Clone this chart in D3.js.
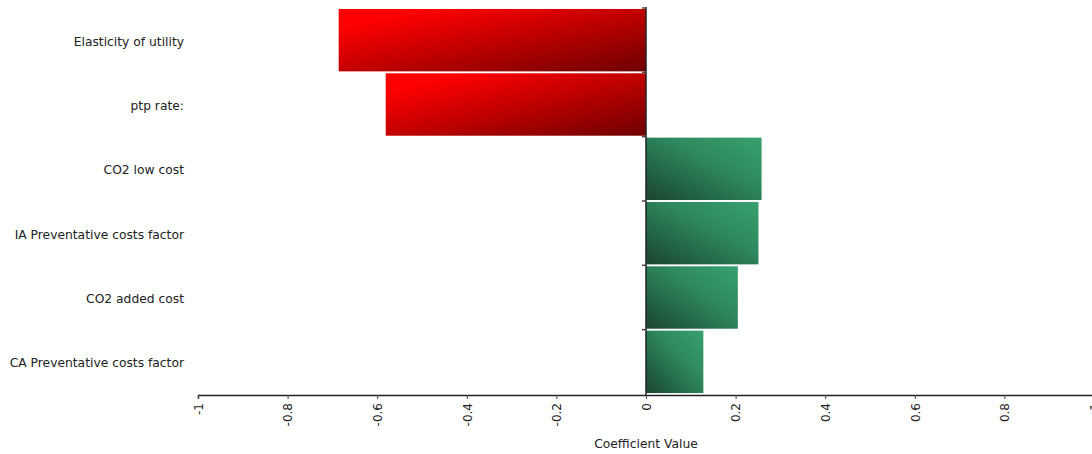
<!DOCTYPE html>
<html><head><meta charset="utf-8">
<script src="https://cdn.jsdelivr.net/npm/d3@7"></script>
<style>
body{margin:0;background:#fff;}
svg text{font-family:"DejaVu Sans",Verdana,sans-serif;}
</style></head>
<body><svg id="c" width="1092" height="454"></svg>
<script>
const categories = ["Elasticity of utility","ptp rate:","CO2 low cost","IA Preventative costs factor","CO2 added cost","CA Preventative costs factor"];
const values = [-0.686, -0.581, 0.258, 0.251, 0.205, 0.128];
const xTicks = [-1,-0.8,-0.6,-0.4,-0.2,0,0.2,0.4,0.6,0.8,1];
const xTitle = "Coefficient Value";

const svg = d3.select("#c");
const x = d3.scaleLinear().domain([-1,1]).range([198,1094]);
const y = d3.scaleBand().domain(categories).range([8,394]).paddingInner(0.03).paddingOuter(0.015);

const defs = svg.append("defs");
const rg = defs.append("linearGradient").attr("id","gRed").attr("x1","0").attr("y1","0").attr("x2","1").attr("y2","1");
rg.append("stop").attr("offset","0").attr("stop-color","#ff0000");
rg.append("stop").attr("offset","0.15").attr("stop-color","#ff0000");
rg.append("stop").attr("offset","1").attr("stop-color","#6e0000");
const gg = defs.append("linearGradient").attr("id","gGreen").attr("x1","0").attr("y1","1").attr("x2","1").attr("y2","0");
gg.append("stop").attr("offset","0").attr("stop-color","#1a4530");
gg.append("stop").attr("offset","0.6").attr("stop-color","#2e8a5e");
gg.append("stop").attr("offset","1").attr("stop-color","#38a06e");

svg.append("g").selectAll("rect").data(values).join("rect")
  .attr("x",(d)=>x(Math.min(0,d)))
  .attr("y",(d,i)=>y(categories[i]))
  .attr("width",d=>Math.abs(x(d)-x(0)))
  .attr("height",y.bandwidth())
  .attr("fill",d=>d<0?"url(#gRed)":"url(#gGreen)");

// y axis at zero
const yAxisG = svg.append("g").attr("transform",`translate(${x(0)},0)`);
yAxisG.append("line").attr("y1",7).attr("y2",395).attr("stroke","#222").attr("stroke-width",1.5);
yAxisG.selectAll("line.t").data(categories).join("line").attr("class","t")
  .attr("x1",-4).attr("x2",0)
  .attr("y1",d=>y(d)-1).attr("y2",d=>y(d)-1)
  .attr("stroke","#444").attr("stroke-width",1.5);

// category labels
svg.append("g").selectAll("text").data(categories).join("text")
  .attr("x",184).attr("y",d=>y(d)+y.bandwidth()/2+2)
  .attr("text-anchor","end").attr("dominant-baseline","middle")
  .attr("font-size",12.3).attr("fill","#222").text(d=>d);

// x axis
const xAxis = d3.axisBottom(x).tickValues(xTicks).tickSize(4).tickFormat(d=>String(d));
const xg = svg.append("g").attr("transform","translate(0,395)").call(xAxis);
xg.select(".domain").attr("stroke","#222").attr("stroke-width",1.5);
xg.selectAll(".tick line").attr("stroke","#444");
xg.selectAll(".tick text")
  .attr("font-size",12).attr("fill","#222")
  .attr("font-family","DejaVu Sans, sans-serif")
  .attr("transform","rotate(-90)")
  .attr("text-anchor","end")
  .attr("x",-8).attr("y",0).attr("dy","0.35em");

svg.append("text").attr("x",x(0)).attr("y",448).attr("text-anchor","middle")
  .attr("font-size",12.3).attr("fill","#222").text(xTitle);
</script></body></html>
